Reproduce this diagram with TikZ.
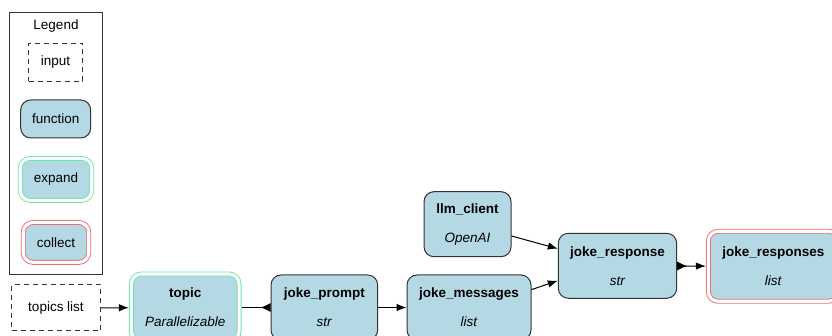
\documentclass[tikz,border=0pt]{standalone}
\usepackage{fontspec}
\setmainfont{Liberation Sans}
\usepackage{tikz}
\usepackage{xcolor}
\usetikzlibrary{arrows.meta,positioning}
\definecolor{FnBlue}{RGB}{180,216,228}
\definecolor{LineGray}{RGB}{51,51,51}
\definecolor{ExpandGreen}{RGB}{110,228,168}
\definecolor{CollectRed}{RGB}{236,110,110}

\tikzset{
  fnbox/.style={draw=LineGray, line width=1pt, rounded corners=10pt, fill=FnBlue, align=center},
  inbox/.style={draw=LineGray, line width=1pt, dash pattern=on 5pt off 4pt},
  expandbox/.style={fnbox, draw=ExpandGreen, line width=0.9pt, double=white, double distance=3.1pt},
  collectbox/.style={fnbox, draw=CollectRed, line width=0.9pt, double=white, double distance=3.1pt},
  edge/.style={draw=black, line width=1pt, -{Latex[length=10pt,width=7.5pt]}}
}
\newcommand{\fnlabel}[2]{\textbf{#1}\\[12.8pt]\textit{#2}}

\begin{document}
\begin{tikzpicture}[x=1pt, y=-1pt, every node/.style={font=\fontsize{13.5}{16.2}\selectfont}]
\useasboundingbox (0,0) rectangle (832,336);
\clip (0,0) rectangle (832,336);

% legend
\node[draw=LineGray, line width=1pt, minimum width=92.7pt, minimum height=261.3pt] (legend) at (55.7,143.4) {};
\node (legtitle) at (56,26) {Legend};
\node[inbox, minimum width=54pt, minimum height=38pt] (lin) at (55.5,62.5) {input};
\node[fnbox, minimum width=70pt, minimum height=38pt] (lfn) at (55.7,119) {function};
\node[expandbox, minimum width=71.5pt, minimum height=42pt] (lexp) at (56,179.4) {expand};
\node[collectbox, minimum width=65.5pt, minimum height=40pt] (lcol) at (56,242.4) {collect};

% graph
\node[inbox, minimum width=89pt, minimum height=46pt] (topics) at (56,308) {topics list};
\node[expandbox, minimum width=107.7pt, minimum height=67pt] (topic) at (185.2,307.5) {\fnlabel{topic}{Parallelizable}};
\node[fnbox, right=31pt of topic, minimum width=106.7pt, minimum height=65pt] (prompt) {\fnlabel{joke\_prompt}{str}};
\node[fnbox, right=28.3pt of prompt, minimum width=124pt, minimum height=65pt] (messages) {\fnlabel{joke\_messages}{list}};
\node[fnbox, minimum width=87pt, minimum height=65pt] (client) at (467.5,224.2) {\fnlabel{llm\_client}{OpenAI}};
\node[fnbox, minimum width=118.4pt, minimum height=65pt] (response) at (617.5,265.8) {\fnlabel{joke\_response}{str}};
\node[collectbox, minimum width=130pt, minimum height=70pt] (responses) at (773.3,266.3) {\fnlabel{joke\_responses}{list}};

\draw[edge, shorten >=2pt] (topics) -- (topic);
\draw[edge, shorten <=2pt, -{Latex[reversed,length=10pt,width=9pt]}] (topic) -- (prompt);
\draw[edge] (prompt) -- (messages);
\draw[edge] (client.-15) -- (response.164);
\draw[edge] (messages.16) -- (response.194);
\draw[edge, shorten >=2pt, {Latex[reversed,length=10pt,width=9pt]}-{Latex[length=10pt,width=7.5pt]}] (response) -- (responses);
\end{tikzpicture}
\end{document}
